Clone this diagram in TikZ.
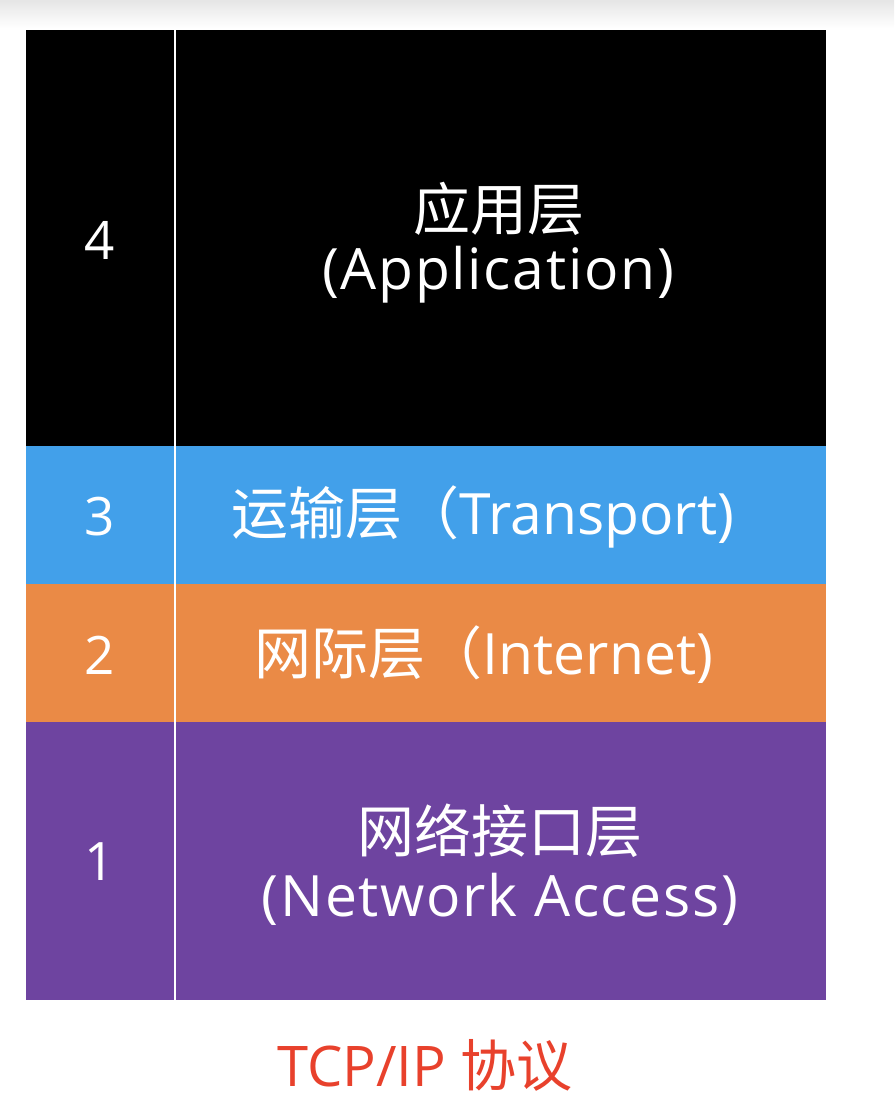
\documentclass[tikz,border=0pt]{standalone}
\usepackage{fontspec}
\setmainfont{Open Sans}
\newfontfamily\cjk{Noto Sans CJK SC}
\newfontfamily\widelat[LetterSpace=3]{Open Sans}
\definecolor{lblue}{RGB}{66,160,234}
\definecolor{lorange}{RGB}{234,138,70}
\definecolor{lpurple}{RGB}{110,68,160}
\definecolor{lred}{RGB}{232,65,44}
\begin{document}
\begin{tikzpicture}[x=1pt,y=-1pt,
  band/.style={rectangle,inner sep=0pt,outer sep=0pt,minimum width=800pt,anchor=north west},
  txt/.style={text=white,font=\fontsize{57}{64}\selectfont,inner sep=0pt,align=center},
  num/.style={text=white,font=\fontsize{53}{60}\selectfont,inner sep=0pt}]
\useasboundingbox (0,0) rectangle (894,1118);
\shade[top color=black!10,bottom color=white] (0,0) rectangle (894,28);
\node[band,fill=black,minimum height=416pt] (L4) at (26,30) {};
\node[band,fill=lblue,minimum height=138pt] (L3) at (26,446) {};
\node[band,fill=lorange,minimum height=138pt] (L2) at (26,584) {};
\node[band,fill=lpurple,minimum height=278pt] (L1) at (26,722) {};
\coordinate (dtop) at (175,30);
\coordinate (dbot) at (175,1000);
\draw[white,line width=2pt] (dtop) -- (dbot);
\node[num] (n4) at (100,240) {4};
\node[num] (n3) at (100,517) {3};
\node[num] (n2) at (100,655) {2};
\node[num] (n1) at (100,862) {1};
\node[txt] (t4a) at (499,209) {\cjk 应用层};
\node[txt] (t4b) at (498,275) {\widelat (Application)};
\node[txt] (t3) at (483,517) {{\cjk 运输层（}Transport)};
\node[txt] (t2) at (484,655) {{\cjk 网际层（}Internet)};
\node[txt] (t1a) at (500,831) {\cjk 网络接口层};
\node[txt] (t1b) at (500,899) {\widelat (Network Access)};
\node[text=lred,font=\fontsize{56}{60}\selectfont,inner sep=0pt] (cap) at (425,1065) {TCP/IP {\cjk 协议}};
\end{tikzpicture}
\end{document}
